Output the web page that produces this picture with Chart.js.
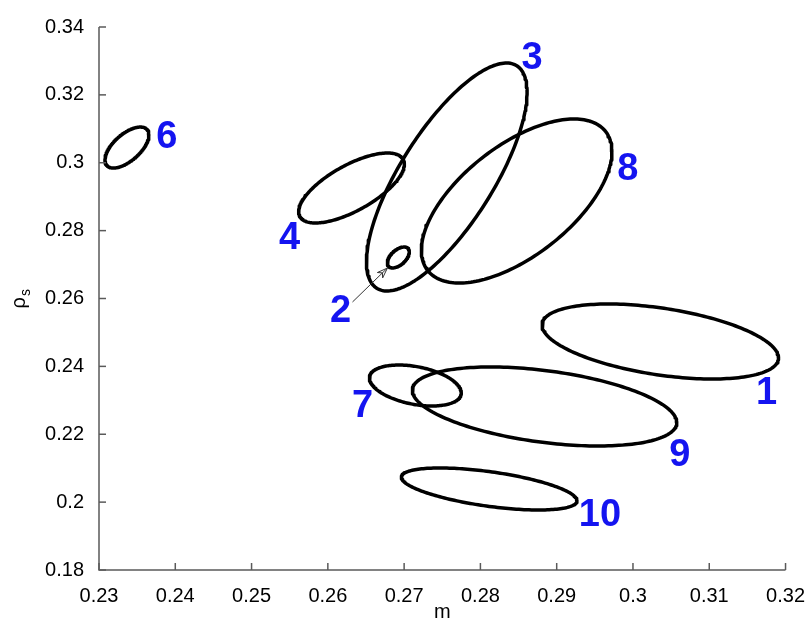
<!DOCTYPE html>
<html>
<head>
<meta charset="utf-8">
<script src="https://cdn.jsdelivr.net/npm/chart.js@4/dist/chart.umd.min.js"></script>
<style>
  html, body { margin: 0; padding: 0; background: #fff; }
</style>
</head>
<body>
<canvas id="ellipseChart" width="811" height="624"></canvas>
<script>
const ctxEl = document.getElementById('ellipseChart');

// one entry per ellipse (there is no number 5 in the figure)
const ids = ['1', '2', '3', '4', '6', '7', '8', '9', '10'];
const centerX = [0.30358, 0.26924, 0.27559, 0.26310, 0.23366, 0.27147, 0.28475, 0.28841, 0.28115];
const centerY = [0.24733, 0.27208, 0.29580, 0.29256, 0.30448, 0.23436, 0.28873, 0.22818, 0.20387];
const halfWidth = [0.01550, 0.00144, 0.01053, 0.00693, 0.00288, 0.00602, 0.01249, 0.01733, 0.01151];
const halfHeight = [0.01105, 0.00309, 0.03359, 0.01031, 0.00604, 0.00604, 0.02416, 0.01164, 0.00619];
const phaseDeg = [116, 58, 42, 47, 52, 111, 53, 114, 124];

// where the blue numbers sit
const labelX = [0.3175, 0.26166, 0.28678, 0.25499, 0.2389, 0.26454, 0.29933, 0.30614, 0.29567];
const labelY = [0.23186, 0.25631, 0.33086, 0.27782, 0.30758, 0.22803, 0.29786, 0.21388, 0.19591];

// arrow from label 2 to ellipse 2
const arrowFrom = [0.26323, 0.25897];
const arrowTo = [0.26781, 0.26898];

const xTicks = [0.23, 0.24, 0.25, 0.26, 0.27, 0.28, 0.29, 0.3, 0.31, 0.32];
const xTickLabels = ['0.23', '0.24', '0.25', '0.26', '0.27', '0.28', '0.29', '0.3', '0.31', '0.32'];
const yTicks = [0.18, 0.2, 0.22, 0.24, 0.26, 0.28, 0.3, 0.32, 0.34];
const yTickLabels = ['0.18', '0.2', '0.22', '0.24', '0.26', '0.28', '0.3', '0.32', '0.34'];

const FONT = 'Arial, "Liberation Sans", sans-serif';
const axisColor = '#5a5a5a';

// outline of ellipse i: x = cx + a cos t, y = cy + b cos(t - phase)
const ellipsePoints = i => {
  const pts = [];
  const phi = phaseDeg[i] * Math.PI / 180;
  for (let k = 0; k <= 201; k += 1) {
    const t = (k / 200) * 2 * Math.PI;
    pts.push({
      x: centerX[i] + halfWidth[i] * Math.cos(t),
      y: centerY[i] + halfHeight[i] * Math.cos(t - phi),
    });
  }
  return pts;
};

const overlay = {
  id: 'overlay',
  afterDatasetsDraw(chart) {
    const { ctx, chartArea: area, scales: { x, y } } = chart;
    ctx.save();

    // axes with inward ticks (no box)
    ctx.strokeStyle = axisColor;
    ctx.lineWidth = 1.5;
    ctx.beginPath();
    ctx.moveTo(area.left, area.top);
    ctx.lineTo(area.left, area.bottom);
    ctx.lineTo(area.right, area.bottom);
    ctx.stroke();
    xTicks.forEach(v => {
      const px = x.getPixelForValue(v);
      ctx.beginPath();
      ctx.moveTo(px, area.bottom);
      ctx.lineTo(px, area.bottom - 7);
      ctx.stroke();
    });
    yTicks.forEach(v => {
      const py = y.getPixelForValue(v);
      ctx.beginPath();
      ctx.moveTo(area.left, py);
      ctx.lineTo(area.left + 7, py);
      ctx.stroke();
    });

    // arrow
    const x0 = x.getPixelForValue(arrowFrom[0]);
    const y0 = y.getPixelForValue(arrowFrom[1]);
    const x1 = x.getPixelForValue(arrowTo[0]);
    const y1 = y.getPixelForValue(arrowTo[1]);
    const ang = Math.atan2(y1 - y0, x1 - x0);
    ctx.strokeStyle = '#333';
    ctx.lineWidth = 1;
    ctx.beginPath();
    ctx.moveTo(x0, y0);
    ctx.lineTo(x1, y1);
    ctx.stroke();
    ctx.beginPath();
    ctx.moveTo(x1, y1);
    ctx.lineTo(x1 - 11 * Math.cos(ang - 0.35), y1 - 11 * Math.sin(ang - 0.35));
    ctx.lineTo(x1 - 7 * Math.cos(ang), y1 - 7 * Math.sin(ang));
    ctx.lineTo(x1 - 11 * Math.cos(ang + 0.35), y1 - 11 * Math.sin(ang + 0.35));
    ctx.closePath();
    ctx.stroke();

    // blue numbers
    ctx.fillStyle = '#1414f0';
    ctx.font = 'bold 38px ' + FONT;
    ctx.textAlign = 'center';
    ctx.textBaseline = 'middle';
    ids.forEach((id, i) => {
      ctx.fillText(id, x.getPixelForValue(labelX[i]), y.getPixelForValue(labelY[i]));
    });

    // axis titles
    ctx.fillStyle = '#000';
    ctx.font = '20px ' + FONT;
    ctx.textBaseline = 'alphabetic';
    ctx.fillText('m', (area.left + area.right) / 2, area.bottom + 48);

    ctx.translate(25, (area.top + area.bottom) / 2 + 10);
    ctx.rotate(-Math.PI / 2);
    ctx.textAlign = 'left';
    ctx.fillText('\u03c1', 0, 0);
    const w = ctx.measureText('\u03c1').width;
    ctx.font = '14px ' + FONT;
    ctx.fillText('s', w + 1, 5);
    ctx.restore();
  },
};

const chart = new Chart(ctxEl, {
  type: 'scatter',
  data: {
    datasets: ids.map((id, i) => ({
      label: id,
      data: ellipsePoints(i),
      showLine: true,
      borderColor: '#000',
      borderWidth: 3.5,
      borderJoinStyle: 'round',
      borderCapStyle: 'round',
      pointRadius: 0,
      tension: 0,
    })),
  },
  options: {
    responsive: false,
    animation: false,
    layout: { padding: { top: 27, right: 24, left: 0, bottom: 0 } },
    plugins: { legend: { display: false }, tooltip: { enabled: false } },
    scales: {
      x: {
        type: 'linear',
        min: 0.23,
        max: 0.32,
        afterBuildTicks: scale => { scale.ticks = xTicks.map(v => ({ value: v })); },
        afterFit: scale => { scale.height = 54; },
        grid: { display: false },
        border: { display: false },
        ticks: {
          padding: 6,
          color: '#000',
          font: { family: FONT, size: 20 },
          maxRotation: 0,
          callback: (v, i) => xTickLabels[i],
        },
      },
      y: {
        type: 'linear',
        min: 0.18,
        max: 0.34,
        afterBuildTicks: scale => { scale.ticks = yTicks.map(v => ({ value: v })); },
        afterFit: scale => { scale.width = 99; },
        grid: { display: false },
        border: { display: false },
        ticks: {
          padding: 7,
          color: '#000',
          font: { family: FONT, size: 20 },
          callback: (v, i) => yTickLabels[i],
        },
      },
    },
  },
  plugins: [overlay],
});
</script>
</body>
</html>
